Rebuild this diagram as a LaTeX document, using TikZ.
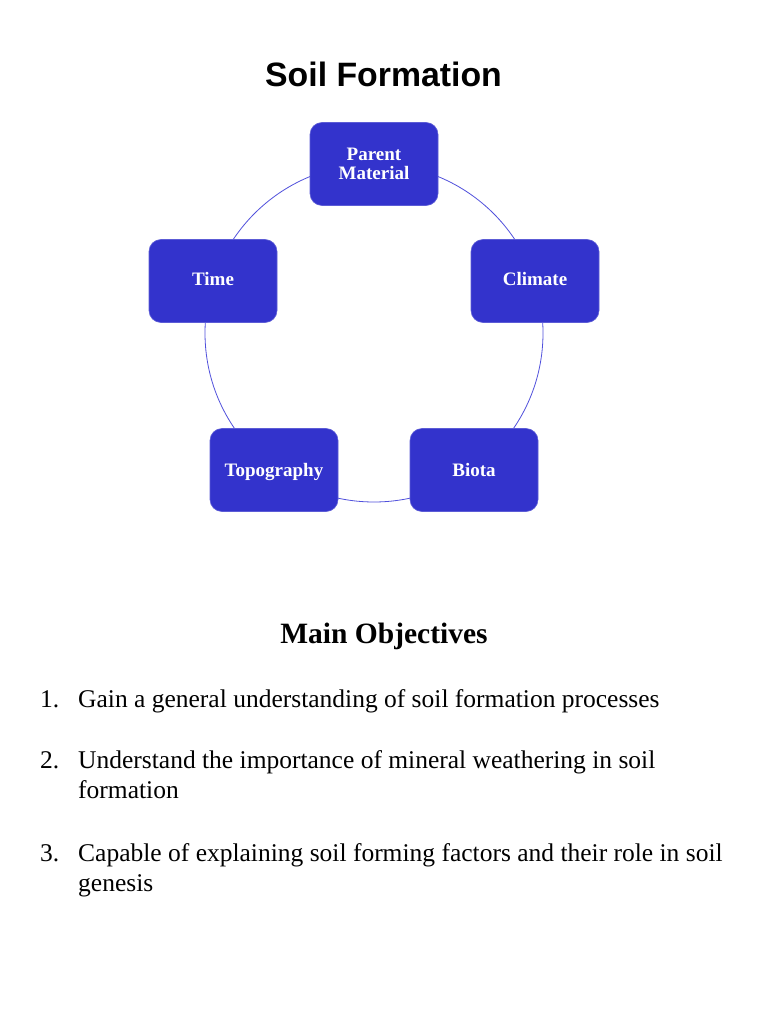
\documentclass[tikz,border=0pt]{standalone}
\usepackage{fontspec}
\setmainfont{Liberation Serif}
\newfontfamily\titlefont{Liberation Sans}
\definecolor{boxblue}{RGB}{51,51,204}
\definecolor{ringblue}{RGB}{80,80,220}
\begin{document}
\begin{tikzpicture}[x=1pt,y=-1pt,
  factor/.style={draw=boxblue!80!white, line width=0.6pt, fill=boxblue, rounded corners=12pt,
    minimum width=128pt, minimum height=83pt, inner sep=0pt, align=center,
    text=white, font=\fontsize{19}{19}\selectfont\bfseries},
  oneline/.style={factor, text height=13pt, text depth=4pt},
  lowline/.style={factor, text height=13pt, text depth=1pt},
  ring/.style={draw=ringblue, line width=0.8pt},
  item/.style={anchor=base west, inner sep=0pt, font=\fontsize{25.5}{30}\selectfont},
]
\useasboundingbox[fill=white] (0,0) rectangle (768,1024);

% title
\node[anchor=base, inner sep=0pt, font=\titlefont\fontsize{33.8}{36}\selectfont\bfseries] (title) at (383.5,87) {Soil Formation};

% ring
\coordinate (ringc) at (374,333);
\draw[ring] (ringc) circle[radius=169];

% factors
\node[factor] (parent) at (374,164) {Parent\\[0pt]Material};
\node[oneline] (climate) at (535,281) {Climate};
\node[lowline] (biota) at (474,470) {Biota};
\node[lowline] (topo) at (274,470) {Topography};
\node[oneline] (time) at (213,281) {Time};

% objectives
\node[anchor=base, inner sep=0pt, font=\fontsize{29.5}{32}\selectfont\bfseries] (mainobj) at (384,643) {Main Objectives};

\node[item] (n1) at (40,707) {1.};
\node[item] (t1) at (78,707) {Gain a general understanding of soil formation processes};

\node[item] (n2) at (40,768) {2.};
\node[item] (t2a) at (78,768) {Understand the importance of mineral weathering in soil};
\node[item] (t2b) at (78,798) {formation};

\node[item] (n3) at (40,861) {3.};
\node[item] (t3a) at (78,861) {Capable of explaining soil forming factors and their role in soil};
\node[item] (t3b) at (78,891) {genesis};
\end{tikzpicture}
\end{document}
